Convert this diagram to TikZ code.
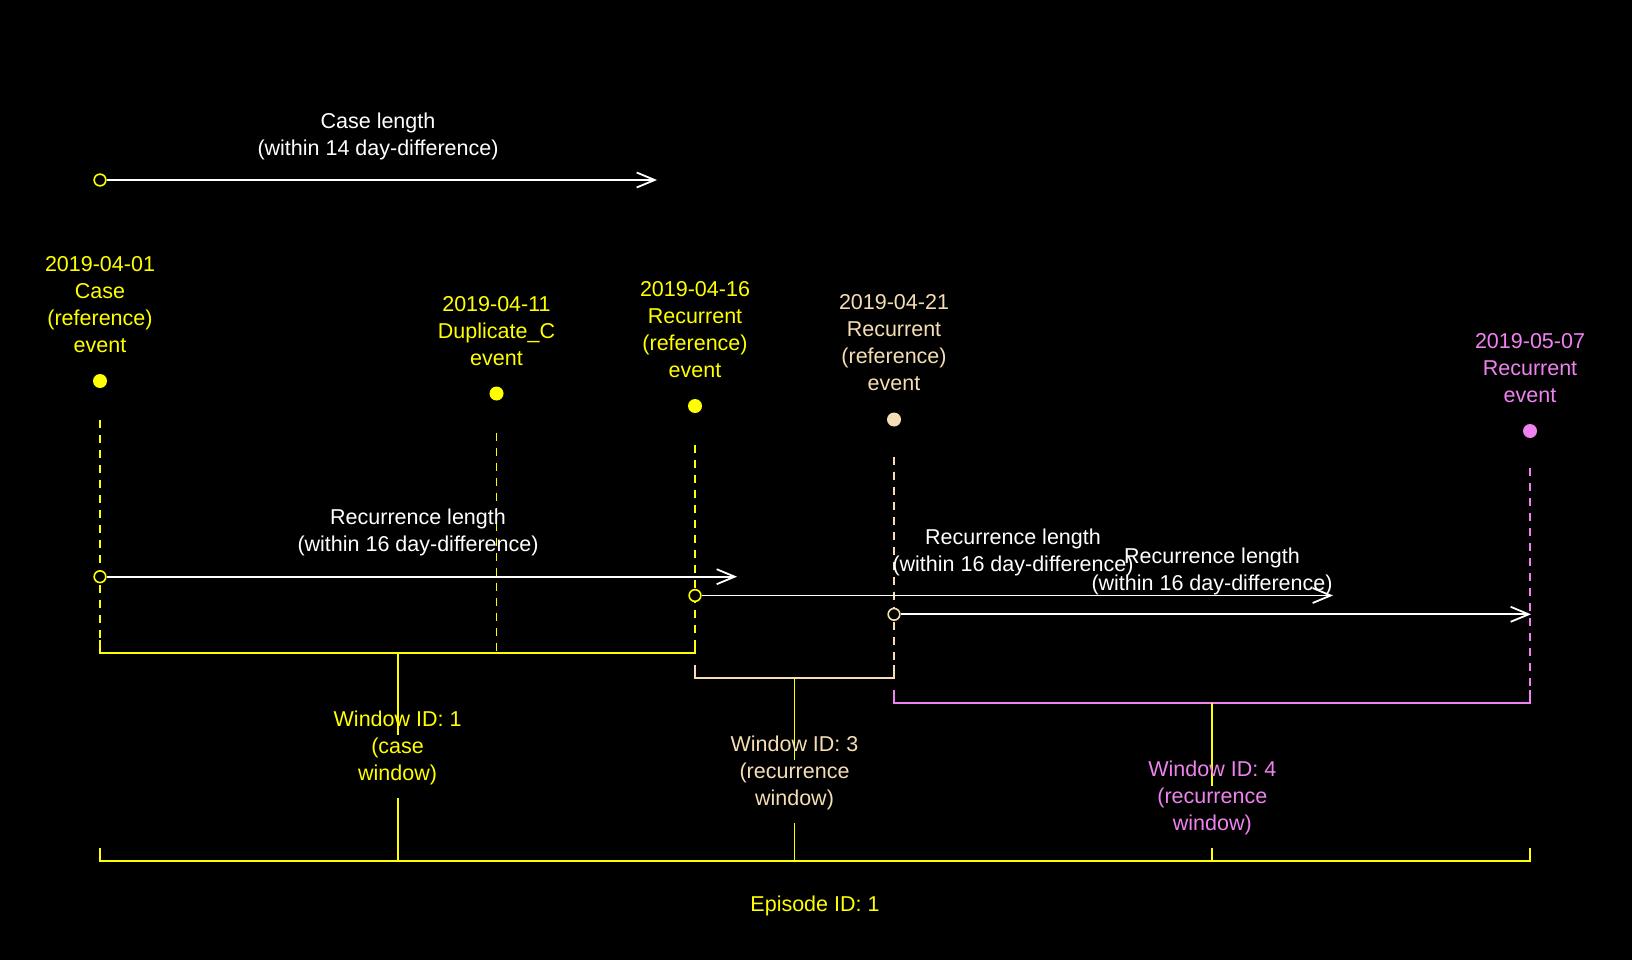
\documentclass[tikz,border=0pt]{standalone}
\usepackage{fontspec}
\setmainfont{Liberation Sans}
\usetikzlibrary{arrows.meta}
\definecolor{cyel}{HTML}{FFFF00}
\definecolor{cwheat}{HTML}{F5DEB3}
\definecolor{cviol}{HTML}{EE82EE}
\begin{document}
\begin{tikzpicture}[x=1pt,y=-1pt,
  lbl/.style={align=center, inner sep=0pt, font=\fontsize{21.5}{27}\selectfont, yshift=-2pt},
  dot/.style={circle, fill=#1, inner sep=0pt, minimum size=14pt},
  ring/.style={circle, draw=#1, fill=black, line width=1.6pt, inner sep=0pt, minimum size=11.7pt},
  lenarrow/.style={draw=white, line width=1.8pt, -{Straight Barb[length=18pt,width=15pt,line width=1.8pt]}},
  evdash/.style={draw=#1, line width=1.8pt, dash pattern=on 8pt off 7pt},
  bracket/.style={draw=#1, line width=1.8pt},
]
\fill[black] (0,0) rectangle (1632,960);
\useasboundingbox (0,0) rectangle (1632,960);

% ---- coordinates: brackets
\coordinate (w1l) at (100,653);   \coordinate (w1r) at (695,653);   \coordinate (w1m) at (397.6,653);
\coordinate (w3l) at (695,677.7); \coordinate (w3r) at (894,677.7); \coordinate (w3m) at (794.5,677.7);
\coordinate (w4l) at (894,702.7); \coordinate (w4r) at (1530,702.7);\coordinate (w4m) at (1212.3,702.7);
\coordinate (epl) at (100,860.7); \coordinate (epr) at (1530,860.7);
\coordinate (ep1) at (397.6,860.7); \coordinate (ep3) at (794.5,860.7); \coordinate (ep4) at (1212.3,860.7);

% ---- window brackets
\draw[bracket=cyel]   ([yshift=12.7pt]w1l) -- (w1l) -- (w1r) -- ([yshift=12.7pt]w1r);
\draw[bracket=cwheat] ([yshift=12.7pt]w3l) -- (w3l) -- (w3r) -- ([yshift=12.7pt]w3r);
\draw[bracket=cviol]  ([yshift=12.7pt]w4l) -- (w4l) -- (w4r) -- ([yshift=12.7pt]w4r);
\draw[bracket=cyel]   ([yshift=12.7pt]epl) -- (epl) -- (epr) -- ([yshift=12.7pt]epr);

% ---- event dots
\node[dot=cyel]   (e1) at (100,381) {};
\node[dot=cyel]   (e2) at (496.5,393.5) {};
\node[dot=cyel]   (e3) at (695,406) {};
\node[dot=cwheat] (e4) at (894,419.5) {};
\node[dot=cviol]  (e5) at (1530,431) {};

% ---- dashed event lines
\draw[evdash=cyel]   ([yshift=-39pt]e1.center) -- (w1l);
\draw[evdash=cyel]   ([yshift=-39pt]e2.center) -- (496.5,653);
\draw[evdash=cyel]   ([yshift=-39pt]e3.center) -- (w1r);
\draw[evdash=cwheat] ([yshift=-37pt]e4.center) -- (w3r);
\draw[evdash=cviol]  ([yshift=-37pt]e5.center) -- (w4r);

% ---- window to episode connectors
\draw[bracket=cyel] (w1m) -- (397.6,735);  \draw[bracket=cyel] (397.6,798) -- (ep1);
\draw[bracket=cyel] (w3m) -- (794.5,760);  \draw[bracket=cyel] (794.5,823) -- (ep3);
\draw[bracket=cyel] (w4m) -- (1212.3,786); \draw[bracket=cyel] (1212.3,848) -- (ep4);

% ---- length arrows
\node[ring=cyel]   (c0) at (100,180) {};
\coordinate (c0t) at (657,180);
\draw[lenarrow] (c0.east) -- (c0t);

\node[ring=cyel]   (r1) at (100,576.7) {};
\coordinate (r1t) at (737,576.7);
\draw[lenarrow] (r1.east) -- (r1t);

\node[ring=cyel]   (r2) at (695,595.5) {};
\coordinate (r2t) at (1333,595.5);
\draw[lenarrow] (r2.east) -- (r2t);

\node[ring=cwheat] (r3) at (894,614.3) {};
\coordinate (r3t) at (1531,614.3);
\draw[lenarrow] (r3.east) -- (r3t);

% ---- labels
\node[lbl, text=white] (tc0) at (378,134.5) {Case length\\(within 14 day-difference)};
\node[lbl, text=white] (tr1) at (418,530.5) {Recurrence length\\(within 16 day-difference)};
\node[lbl, text=white] (tr2) at (1013,550.5) {Recurrence length\\(within 16 day-difference)};
\node[lbl, text=white] (tr3) at (1212,569.5) {Recurrence length\\(within 16 day-difference)};

\node[lbl, text=cyel]   (l1) at (100,302.6) {2019-04-01\\Case\\(reference)\\event};
\node[lbl, text=cyel]   (l2) at (496.5,329) {2019-04-11\\Duplicate\_C\\event};
\node[lbl, text=cyel]   (l3) at (695,327.5) {2019-04-16\\Recurrent\\(reference)\\event};
\node[lbl, text=cwheat] (l4) at (894,340.5) {2019-04-21\\Recurrent\\(reference)\\event};
\node[lbl, text=cviol]  (l5) at (1530,366) {2019-05-07\\Recurrent\\event};

\node[lbl, text=cyel]   (tw1) at (397.6,745.7) {Window ID: 1\\(case\\window)};
\node[lbl, text=cwheat] (tw3) at (794.5,770.7) {Window ID: 3\\(recurrence\\window)};
\node[lbl, text=cviol]  (tw4) at (1212.3,796.3) {Window ID: 4\\(recurrence\\window)};
\node[lbl, text=cyel]   (tep) at (815,903.5) {Episode ID: 1};
\end{tikzpicture}
\end{document}
